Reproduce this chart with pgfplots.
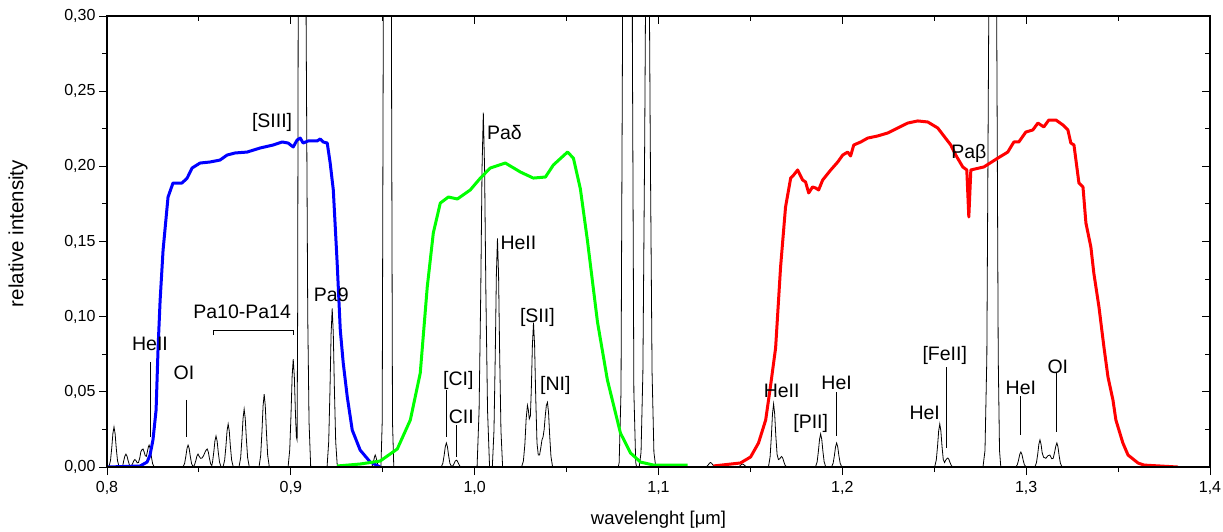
\documentclass[border=0pt]{standalone}
\usepackage{fontspec}
\setmainfont{Liberation Sans}
\usepackage{pgfplots}
\pgfplotsset{compat=1.18}
\usepackage{pgfplotstable}

\newcommand{\lbl}{\fontsize{19.5}{22}\selectfont}
\newcommand{\tck}{\fontsize{16}{18}\selectfont}

% emission-line spectrum (black)
\pgfplotstableread{
x y
0.8000 0
0.8010 0
0.8019 0.0043
0.8026 0.0130
0.8032 0.0223
0.8038 0.0266
0.8044 0.0223
0.8050 0.0130
0.8057 0.0043
0.8066 0
0.8084 0
0.8091 0.0042
0.8097 0.0072
0.8103 0.0086
0.8109 0.0072
0.8115 0.0042
0.8122 0.0014
0.8131 0.0005
0.8140 0.0025
0.8146 0.0042
0.8152 0.0050
0.8158 0.0042
0.8164 0.0028
0.8171 0.0030
0.8178 0.0059
0.8184 0.0101
0.8190 0.0115
0.8196 0.0120
0.8202 0.0101
0.8208 0.0075
0.8214 0.0071
0.8220 0.0104
0.8225 0.0134
0.8229 0.0146
0.8235 0.0123
0.8241 0.0072
0.8248 0.0023
0.8257 0
0.8413 0
0.8422 0.0023
0.8429 0.0072
0.8435 0.0123
0.8441 0.0146
0.8447 0.0123
0.8453 0.0072
0.8460 0.0023
0.8469 0
0.8476 0.0014
0.8483 0.0042
0.8489 0.0072
0.8495 0.0086
0.8501 0.0072
0.8509 0.0058
0.8517 0.0060
0.8525 0.0075
0.8533 0.0098
0.8539 0.0112
0.8545 0.0120
0.8551 0.0101
0.8557 0.0059
0.8564 0.0020
0.8570 0.0010
0.8574 0.0033
0.8581 0.0101
0.8587 0.0173
0.8593 0.0206
0.8599 0.0173
0.8605 0.0101
0.8612 0.0033
0.8621 0
0.8631 0
0.8640 0.0046
0.8647 0.0140
0.8653 0.0240
0.8659 0.0286
0.8665 0.0240
0.8671 0.0140
0.8678 0.0046
0.8687 0
0.8718 0
0.8727 0.0062
0.8734 0.0189
0.8740 0.0323
0.8746 0.0385
0.8752 0.0323
0.8758 0.0189
0.8765 0.0062
0.8774 0
0.8827 0
0.8836 0.0078
0.8843 0.0238
0.8849 0.0407
0.8855 0.0485
0.8861 0.0407
0.8867 0.0238
0.8874 0.0078
0.8883 0
0.8985 0
0.8994 0.0115
0.9001 0.0351
0.9007 0.0602
0.9013 0.0717
0.9019 0.0602
0.9025 0.0360
0.9030 0.0200
0.9034 0.0180
0.9037 0.1000
0.9040 0.3000
0.9050 0.8000
0.9062 1.0000
0.9072 0.7500
0.9083 0.3000
0.9092 0.1000
0.9099 0.0300
0.9108 0
0.9197 0
0.9206 0.0169
0.9213 0.0517
0.9219 0.0886
0.9225 0.1055
0.9231 0.0886
0.9237 0.0517
0.9244 0.0169
0.9253 0
0.9438 0
0.9445 0.0013
0.9450 0.0039
0.9455 0.0067
0.9459 0.0080
0.9463 0.0067
0.9468 0.0039
0.9473 0.0013
0.9480 0
0.9490 0
0.9497 0.0300
0.9503 0.3000
0.9515 0.8500
0.9525 1.0000
0.9535 0.8500
0.9547 0.3000
0.9553 0.0300
0.9560 0
0.9818 0
0.9827 0.0026
0.9834 0.0078
0.9840 0.0134
0.9846 0.0160
0.9852 0.0134
0.9858 0.0078
0.9865 0.0026
0.9873 0.0005
0.9881 0.0007
0.9888 0.0023
0.9894 0.0039
0.9900 0.0046
0.9906 0.0039
0.9912 0.0023
0.9919 0.0007
0.9928 0
1.0013 0
1.0024 0.0377
1.0033 0.1155
1.0040 0.1980
1.0047 0.2357
1.0054 0.1980
1.0061 0.1155
1.0070 0.0377
1.0081 0
1.0096 0
1.0105 0.0243
1.0112 0.0745
1.0118 0.1277
1.0124 0.1520
1.0130 0.1277
1.0136 0.0745
1.0143 0.0243
1.0152 0
1.0255 0
1.0265 0.0040
1.0273 0.0150
1.0280 0.0320
1.0287 0.0410
1.0292 0.0380
1.0297 0.0320
1.0303 0.0340
1.0308 0.0510
1.0314 0.0810
1.0320 0.0960
1.0326 0.0810
1.0332 0.0470
1.0339 0.0160
1.0346 0.0080
1.0353 0.0080
1.0360 0.0130
1.0366 0.0180
1.0372 0.0200
1.0378 0.0250
1.0384 0.0340
1.0390 0.0410
1.0396 0.0430
1.0402 0.0360
1.0408 0.0210
1.0415 0.0070
1.0424 0
1.0781 0
1.0786 0.0030
1.0796 0.0500
1.0804 0.2800
1.0811 0.8700
1.0821 2.4700
1.0831 3.5000
1.0841 2.4700
1.0851 0.8700
1.0858 0.2800
1.0866 0.0500
1.0876 0.0030
1.0881 0
1.0895 0
1.0905 0.0098
1.0915 0.0630
1.0925 0.2190
1.0932 0.3610
1.0940 0.4400
1.0948 0.3610
1.0955 0.2190
1.0965 0.0630
1.0975 0.0098
1.0985 0
1.1255 0
1.1264 0.0005
1.1271 0.0015
1.1277 0.0025
1.1283 0.0030
1.1289 0.0025
1.1295 0.0015
1.1302 0.0005
1.1311 0
1.1429 0
1.1438 0.0003
1.1445 0.0010
1.1451 0.0017
1.1457 0.0020
1.1463 0.0017
1.1469 0.0010
1.1476 0.0003
1.1485 0
1.1598 0
1.1607 0.0067
1.1614 0.0206
1.1620 0.0353
1.1626 0.0420
1.1632 0.0353
1.1638 0.0210
1.1645 0.0085
1.1652 0.0050
1.1660 0.0055
1.1665 0.0065
1.1670 0.0070
1.1676 0.0059
1.1682 0.0034
1.1689 0.0011
1.1698 0
1.1854 0
1.1863 0.0035
1.1870 0.0108
1.1876 0.0185
1.1882 0.0220
1.1888 0.0185
1.1894 0.0108
1.1901 0.0035
1.1910 0
1.1941 0
1.1950 0.0026
1.1957 0.0078
1.1963 0.0134
1.1969 0.0160
1.1975 0.0134
1.1981 0.0078
1.1988 0.0026
1.1997 0
1.2502 0
1.2511 0.0046
1.2518 0.0140
1.2524 0.0240
1.2530 0.0286
1.2536 0.0240
1.2542 0.0140
1.2549 0.0050
1.2556 0.0030
1.2562 0.0045
1.2568 0.0055
1.2574 0.0060
1.2580 0.0050
1.2586 0.0029
1.2593 0.0010
1.2602 0
1.2765 0
1.2776 0.0110
1.2786 0.0730
1.2796 0.2900
1.2808 0.7750
1.2818 1.0000
1.2828 0.7750
1.2840 0.2900
1.2848 0.0730
1.2855 0.0110
1.2862 0
1.2943 0
1.2952 0.0016
1.2959 0.0049
1.2965 0.0084
1.2971 0.0100
1.2977 0.0084
1.2983 0.0049
1.2990 0.0016
1.2999 0
1.3047 0
1.3056 0.0029
1.3063 0.0088
1.3069 0.0151
1.3075 0.0180
1.3081 0.0151
1.3087 0.0095
1.3095 0.0065
1.3107 0.0058
1.3118 0.0075
1.3129 0.0080
1.3139 0.0055
1.3147 0.0058
1.3155 0.0100
1.3161 0.0138
1.3167 0.0160
1.3173 0.0134
1.3179 0.0078
1.3186 0.0026
1.3195 0
1.4000 0
}\spectrum

% filter curves
\pgfplotstableread{
x y
0.8000 0
0.8180 0.0007
0.8218 0.0033
0.8234 0.0080
0.8250 0.0180
0.8267 0.0379
0.8278 0.0798
0.8289 0.1111
0.8305 0.1443
0.8332 0.1796
0.8359 0.1889
0.8408 0.1889
0.8436 0.1922
0.8463 0.1989
0.8506 0.2022
0.8561 0.2029
0.8615 0.2042
0.8653 0.2075
0.8697 0.2089
0.8762 0.2095
0.8833 0.2122
0.8904 0.2142
0.8953 0.2162
0.8985 0.2155
0.9013 0.2129
0.9034 0.2175
0.9051 0.2188
0.9067 0.2155
0.9094 0.2169
0.9143 0.2169
0.9160 0.2182
0.9176 0.2162
0.9198 0.2155
0.9214 0.2022
0.9231 0.1843
0.9252 0.1357
0.9269 0.0911
0.9285 0.0692
0.9307 0.0466
0.9334 0.0246
0.9377 0.0113
0.9432 0.0033
0.9486 0
}\zband

\pgfplotstableread{
x y
0.9252 0.0007
0.9377 0.0020
0.9486 0.0040
0.9579 0.0120
0.9650 0.0313
0.9704 0.0625
0.9742 0.1197
0.9775 0.1557
0.9813 0.1756
0.9857 0.1796
0.9906 0.1783
0.9976 0.1843
1.0031 0.1922
1.0085 0.1989
1.0167 0.2022
1.0249 0.1962
1.0319 0.1922
1.0385 0.1929
1.0428 0.2009
1.0505 0.2095
1.0537 0.2055
1.0575 0.1850
1.0613 0.1510
1.0668 0.0965
1.0722 0.0579
1.0793 0.0226
1.0848 0.0093
1.0902 0.0033
1.0973 0.0013
1.1158 0.0013
}\yband

\pgfplotstableread{
x y
1.1299 0.0007
1.1446 0.0027
1.1501 0.0067
1.1544 0.0160
1.1583 0.0313
1.1610 0.0545
1.1637 0.0792
1.1664 0.1330
1.1691 0.1729
1.1719 0.1922
1.1735 0.1942
1.1757 0.1976
1.1784 0.1909
1.1800 0.1896
1.1817 0.1823
1.1838 0.1863
1.1855 0.1856
1.1871 0.1843
1.1893 0.1909
1.1937 0.1976
1.1975 0.2029
1.2002 0.2075
1.2029 0.2095
1.2045 0.2069
1.2062 0.2142
1.2100 0.2162
1.2138 0.2188
1.2192 0.2202
1.2247 0.2222
1.2301 0.2255
1.2356 0.2288
1.2410 0.2302
1.2465 0.2295
1.2519 0.2255
1.2590 0.2142
1.2617 0.2075
1.2655 0.1996
1.2677 0.1976
1.2688 0.1663
1.2699 0.1976
1.2770 0.1996
1.2846 0.2055
1.2900 0.2095
1.2933 0.2162
1.2960 0.2162
1.2998 0.2228
1.3036 0.2242
1.3064 0.2288
1.3096 0.2262
1.3123 0.2308
1.3162 0.2308
1.3200 0.2275
1.3227 0.2242
1.3243 0.2155
1.3260 0.2142
1.3287 0.1889
1.3309 0.1863
1.3325 0.1623
1.3352 0.1463
1.3368 0.1290
1.3396 0.1064
1.3423 0.0798
1.3445 0.0599
1.3472 0.0446
1.3488 0.0313
1.3526 0.0160
1.3554 0.0080
1.3608 0.0027
1.3641 0.0013
1.3826 0
}\jband

\begin{document}
\begin{tikzpicture}
\begin{axis}[
    name=ax,
    scale only axis,
    width=1103pt, height=451pt,
    xmin=0.8, xmax=1.4, ymin=0, ymax=0.30,
    xtick={0.8,0.9,1.0,1.1,1.2,1.3,1.4},
    ytick={0,0.05,0.10,0.15,0.20,0.25,0.30},
    minor x tick num=1, minor y tick num=1,
    tick align=outside, xtick pos=left, ytick pos=left,
    major tick length=8pt, minor tick length=5pt,
    tick style={black, line width=1pt},
    axis line style={line width=1.2pt},
    /pgf/number format/assume math mode=true,
    xticklabel style={font=\tck, yshift=-3pt, /pgf/number format/.cd, use comma, fixed, fixed zerofill, precision=1},
    yticklabel style={font=\tck, /pgf/number format/.cd, use comma, fixed, fixed zerofill, precision=2},
    ]
  \addplot[black, line width=0.8pt] table {\spectrum};
  \addplot[blue, line width=3pt, line join=round] table {\zband};
  \addplot[green, line width=3pt, line join=round] table {\yband};
  \addplot[red, line width=3pt, line join=round] table {\jband};

  % line identifications
  \begin{scope}[line width=0.8pt]
  \draw (axis cs:0.8234,0.0698) -- (axis cs:0.8234,0.0200);
  \draw (axis cs:0.8430,0.0446) -- (axis cs:0.8430,0.0200);
  \draw (axis cs:0.8577,0.0878) |- (axis cs:0.9013,0.0911) -- (axis cs:0.9013,0.0878);
  \draw (axis cs:0.9846,0.0512) -- (axis cs:0.9846,0.0200);
  \draw (axis cs:0.9900,0.0279) -- (axis cs:0.9900,0.0067);
  \draw (axis cs:1.1969,0.0499) -- (axis cs:1.1969,0.0206);
  \draw (axis cs:1.2568,0.0665) -- (axis cs:1.2568,0.0126);
  \draw (axis cs:1.2971,0.0472) -- (axis cs:1.2971,0.0213);
  \draw (axis cs:1.3167,0.0625) -- (axis cs:1.3167,0.0233);
  \end{scope}
  \begin{scope}[every node/.style={font=\lbl, inner sep=0pt}]
  \node at (axis cs:0.8234,0.0818) {HeII};
  \node at (axis cs:0.8419,0.0625) {OI};
  \node at (axis cs:0.8735,0.1031) {Pa10-Pa14};
  \node at (axis cs:0.8898,0.2295) {[SIII]};
  \node at (axis cs:0.9220,0.1144) {Pa9};
  \node at (axis cs:0.9911,0.0579) {[CI]};
  \node at (axis cs:0.9927,0.0333) {CII};
  \node at (axis cs:1.0162,0.2222) {Paδ};
  \node at (axis cs:1.0238,0.1490) {HeII};
  \node at (axis cs:1.0341,0.0998) {[SII]};
  \node at (axis cs:1.0439,0.0545) {[NI]};
  \node at (axis cs:1.1670,0.0506) {HeII};
  \node at (axis cs:1.1828,0.0293) {[PII]};
  \node at (axis cs:1.1969,0.0559) {HeI};
  \node at (axis cs:1.2448,0.0359) {HeI};
  \node at (axis cs:1.2557,0.0745) {[FeII]};
  \node at (axis cs:1.2688,0.2088) {Paβ};
  \node at (axis cs:1.2971,0.0525) {HeI};
  \node at (axis cs:1.3172,0.0665) {OI};
  \end{scope}
\end{axis}
% inward ticks on the top and right sides
\begin{axis}[
    at={(ax.south west)}, anchor=south west,
    scale only axis,
    width=1103pt, height=451pt,
    xmin=0.8, xmax=1.4, ymin=0, ymax=0.30,
    xtick={0.8,0.9,1.0,1.1,1.2,1.3,1.4},
    ytick={0,0.05,0.10,0.15,0.20,0.25,0.30},
    minor x tick num=1, minor y tick num=1,
    tick align=inside, xtick pos=right, ytick pos=right,
    major tick length=8pt, minor tick length=5pt,
    tick style={black, line width=1pt},
    axis line style={line width=1.2pt},
    xticklabel=\empty, yticklabel=\empty,
    ]
\end{axis}
\node[rotate=90, font=\fontsize{20.5}{23}\selectfont] at ([xshift=-89pt,yshift=8pt]ax.west) {relative intensity};
\node[font=\fontsize{18.5}{21}\selectfont] at ([yshift=-53pt]ax.south) {wavelenght [μm]};
\pgfresetboundingbox
\path[use as bounding box] ([xshift=-107pt,yshift=-64pt]ax.south west) rectangle ([xshift=13pt,yshift=16pt]ax.north east);
\end{tikzpicture}
\end{document}
